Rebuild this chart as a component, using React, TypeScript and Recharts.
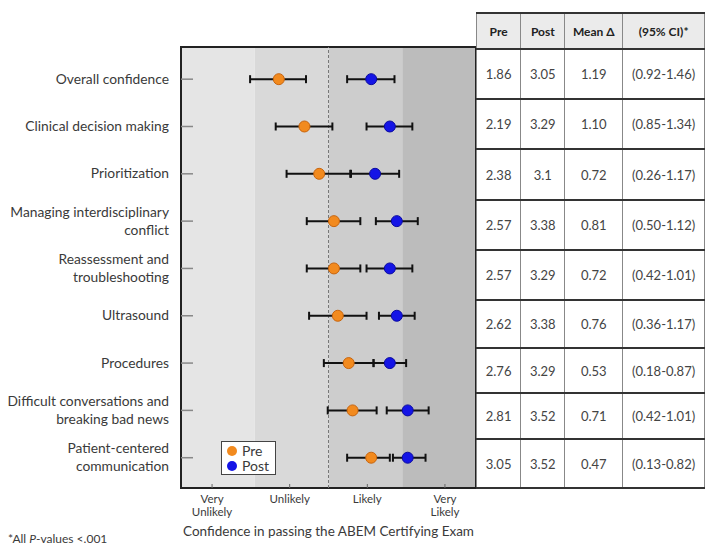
import React from 'react'
import { ScatterChart, Scatter, XAxis, YAxis, ErrorBar, ReferenceArea, ReferenceLine, Label } from 'recharts'

const categories = [
   'Overall confidence',
   'Clinical decision making',
   'Prioritization',
   'Managing interdisciplinary\nconflict',
   'Reassessment and\ntroubleshooting',
   'Ultrasound',
   'Procedures',
   'Difficult conversations and\nbreaking bad news',
   'Patient-centered\ncommunication',
]

const preMean = [1.86, 2.19, 2.38, 2.57, 2.57, 2.62, 2.76, 2.81, 3.05]
const preLow = [1.49, 1.82, 1.96, 2.22, 2.22, 2.25, 2.44, 2.49, 2.74]
const preHigh = [2.21, 2.55, 2.78, 2.91, 2.91, 2.99, 3.08, 3.12, 3.29]

const postMean = [3.05, 3.29, 3.1, 3.38, 3.29, 3.38, 3.29, 3.52, 3.52]
const postLow = [2.74, 2.99, 2.79, 3.11, 2.99, 3.15, 3.08, 3.25, 3.33]
const postHigh = [3.35, 3.58, 3.41, 3.65, 3.58, 3.61, 3.5, 3.79, 3.75]

const xTicks = [1, 2, 3, 4]
const xTickLabels = ['Very\nUnlikely', 'Unlikely', 'Likely', 'Very\nLikely']
const bandEdges = [0.6, 1.55, 2.5, 3.45, 4.4]
const bandColors = ['#e5e5e5', '#d9d9d9', '#cdcdcd', '#bcbcbc']

const tablePre = ['1.86', '2.19', '2.38', '2.57', '2.57', '2.62', '2.76', '2.81', '3.05']
const tablePost = ['3.05', '3.29', '3.1', '3.38', '3.29', '3.38', '3.29', '3.52', '3.52']
const tableDelta = ['1.19', '1.10', '0.72', '0.81', '0.72', '0.76', '0.53', '0.71', '0.47']
const tableCI = [
   '(0.92-1.46)',
   '(0.85-1.34)',
   '(0.26-1.17)',
   '(0.50-1.12)',
   '(0.42-1.01)',
   '(0.36-1.17)',
   '(0.18-0.87)',
   '(0.42-1.01)',
   '(0.13-0.82)',
]
const rowHeights = [50, 50, 51, 50, 50, 48, 45, 46, 49]

const FONT = 'Lato, "Open Sans", sans-serif'
const TEXT = '#3a3a3a'
const PRE_COLOR = '#f28a1e'
const POST_COLOR = '#1414e6'

const makeSeries = (mean: number[], low: number[], high: number[]) =>
   mean.map((m, i) => ({ y: i + 1, x: m, err: [m - low[i], high[i] - m] }))

const preData = makeSeries(preMean, preLow, preHigh)
const postData = makeSeries(postMean, postLow, postHigh)

const YTick = (props: any) => {
   const { x, y, payload } = props
   const lines = categories[payload.value - 1].split('\n')
   const start = -((lines.length - 1) * 18) / 2
   return (
      <g>
         <line x1={x + 12} x2={x + 24} y1={y} y2={y} stroke='#888' strokeWidth={1.5} />
         <text x={x} y={y} textAnchor='end' fill={TEXT} fontSize={13.8} fontFamily={FONT}>
            {lines.map((l: string, i: number) => (
               <tspan key={i} x={x} dy={i === 0 ? start + 4.5 : 18}>
                  {l}
               </tspan>
            ))}
         </text>
      </g>
   )
}

const XTick = (props: any) => {
   const { x, y, payload } = props
   const lines = xTickLabels[xTicks.indexOf(payload.value)].split('\n')
   return (
      <g>
         <line x1={x} x2={x} y1={y - 4} y2={y} stroke='#666' strokeWidth={1} />
         <text x={x} y={y} textAnchor='middle' fill={TEXT} fontSize={11.5} fontFamily={FONT}>
            {lines.map((l: string, i: number) => (
               <tspan key={i} x={x} dy={i === 0 ? 15 : 13}>
                  {l}
               </tspan>
            ))}
         </text>
      </g>
   )
}

const dot = (fill: string, stroke: string) => (props: any) =>
   <circle cx={props.cx} cy={props.cy} r={5.5} fill={fill} stroke={stroke} strokeWidth={1} />

const LegendBox = () => (
   <div
      style={{
         position: 'absolute',
         left: 221,
         top: 441,
         background: '#fff',
         border: '1.5px solid #444',
         padding: '1px 6px 1px 5px',
         fontFamily: FONT,
         fontSize: 14,
         color: TEXT,
         lineHeight: '15px',
      }}
   >
      {[
         ['Pre', PRE_COLOR],
         ['Post', POST_COLOR],
      ].map(([name, c]) => (
         <div key={name} style={{ display: 'flex', alignItems: 'center' }}>
            <span style={{ width: 10, height: 10, borderRadius: 5, background: c, marginRight: 5, display: 'inline-block' }} />
            {name}
         </div>
      ))}
   </div>
)

const cellStyle: React.CSSProperties = {
   borderTop: '2px solid #333',
   borderBottom: '2px solid #333',
   borderLeft: '1px solid #888',
   borderRight: '1px solid #888',
   textAlign: 'center',
   padding: 0,
}

const StatsTable = () => (
   <table
      style={{
         position: 'absolute',
         left: 476,
         top: 12,
         borderCollapse: 'collapse',
         fontFamily: FONT,
         color: '#444',
         fontSize: 13,
         background: '#fff',
         tableLayout: 'fixed',
      }}
   >
      <colgroup>
         <col style={{ width: 45 }} />
         <col style={{ width: 45 }} />
         <col style={{ width: 59 }} />
         <col style={{ width: 84 }} />
      </colgroup>
      <thead>
         <tr style={{ height: 36, background: '#ebebeb' }}>
            {['Pre', 'Post', 'Mean \u0394', '(95% CI)*'].map(h => (
               <th key={h} style={{ ...cellStyle, fontSize: 12, color: '#222', fontWeight: 700 }}>
                  {h}
               </th>
            ))}
         </tr>
      </thead>
      <tbody>
         {tablePre.map((p, i) => (
            <tr key={i} style={{ height: rowHeights[i] }}>
               <td style={cellStyle}>{p}</td>
               <td style={cellStyle}>{tablePost[i]}</td>
               <td style={cellStyle}>{tableDelta[i]}</td>
               <td style={cellStyle}>{tableCI[i]}</td>
            </tr>
         ))}
      </tbody>
   </table>
)

export default function App() {
   return (
      <div style={{ position: 'absolute', left: 0, top: 0, width: 705, height: 548, overflow: 'hidden', background: '#fff' }}>
         <ScatterChart width={480} height={548} margin={{ top: 47, right: 4, left: 0, bottom: 0 }}>
            <XAxis
               type='number'
               dataKey='x'
               domain={[bandEdges[0], bandEdges[bandEdges.length - 1]]}
               ticks={xTicks}
               allowDataOverflow
               height={60}
               tickSize={0}
               tickMargin={0}
               tick={<XTick />}
               axisLine={false}
               tickLine={false}
            >
               <Label
                  value='Confidence in passing the ABEM Certifying Exam'
                  position='insideBottom'
                  offset={12}
                  style={{ fontFamily: FONT, fontSize: 13.5, fill: TEXT }}
               />
            </XAxis>
            <YAxis
               type='number'
               dataKey='y'
               domain={[0.32, 9.64]}
               ticks={categories.map((_, i) => i + 1)}
               reversed
               allowDataOverflow
               width={181}
               tickSize={0}
               tickMargin={12}
               tick={<YTick />}
               axisLine={false}
               tickLine={false}
            />
            {bandColors.map((c, i) => (
               <ReferenceArea key={i} x1={bandEdges[i]} x2={bandEdges[i + 1]} fill={c} fillOpacity={1} stroke='none' />
            ))}
            <ReferenceLine x={2.5} stroke='#777' strokeDasharray='3 2' strokeWidth={1} />
            <ReferenceArea
               x1={bandEdges[0]}
               x2={bandEdges[bandEdges.length - 1]}
               fill='none'
               stroke='#222'
               strokeWidth={2}
            />
            <Scatter name='Pre' data={preData} isAnimationActive={false} shape={dot(PRE_COLOR, '#c8650e')}>
               <ErrorBar dataKey='err' direction='x' width={4} stroke='#111' strokeWidth={2} isAnimationActive={false} />
            </Scatter>
            <Scatter name='Post' data={postData} isAnimationActive={false} shape={dot(POST_COLOR, '#0a0aa0')}>
               <ErrorBar dataKey='err' direction='x' width={4} stroke='#111' strokeWidth={2} isAnimationActive={false} />
            </Scatter>
         </ScatterChart>
         <LegendBox />
         <StatsTable />
         <div style={{ position: 'absolute', left: 8, top: 531, fontFamily: FONT, fontSize: 12, color: TEXT }}>
            *All <i>P</i>-values &lt;.001
         </div>
      </div>
   )
}
